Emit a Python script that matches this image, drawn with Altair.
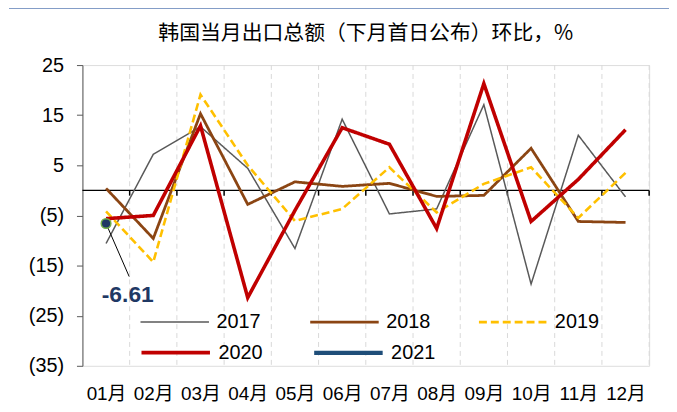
import json
import altair as alt
import pandas as pd

# ---------------- data ----------------
months = list(range(1, 13))
month_labels = ["01月", "02月", "03月", "04月", "05月", "06月",
                "07月", "08月", "09月", "10月", "11月", "12月"]
years = ["2017", "2018", "2019", "2020", "2021"]
v2017 = [-10.6, 7.2, 12.7, 4.4, -11.6, 14.2, -4.7, -3.7, 17.1, -18.7, 11.0, -1.3]
v2018 = [0.4, -9.6, 15.3, -2.8, 1.7, 0.8, 1.4, -1.2, -1.0, 8.4, -6.2, -6.4]
v2019 = [-4.2, -14.3, 19.1, 5.0, -6.1, -3.7, 4.6, -4.4, 1.3, 4.6, -5.5, 3.5]
v2020 = [-5.65, -5.0, 12.9, -21.4, -4.0, 12.5, 9.2, -7.6, 21.3, -6.2, 2.2, 12.1]
v2021 = [-6.61]
y_ticks = [-35, -25, -15, -5, 5, 15, 25]
title_text = "韩国当月出口总额（下月首日公布）环比，%"
ann_text = "-6.61"

colors = ["#595959", "#8B4513", "#FFC000", "#C00000", "#1F4E79"]
widths = [1.5, 2.8, 2.6, 3.6, 4.2]
dashes = [[1, 0], [1, 0], [8, 4], [1, 0], [1, 0]]

rows = []
for yr, vals in zip(years, [v2017, v2018, v2019, v2020, v2021]):
    for m, v in zip(months, vals):
        rows.append({"month": m, "value": v, "year": yr})
df = pd.DataFrame(rows)

bounds_df = pd.DataFrame({"pos": [m + 0.5 for m in months]})
bounds_df["zero"] = 0.0
bounds_df["tickend"] = -1.05
zero_df = pd.DataFrame({"zero": [0.0]})
pt_df = pd.DataFrame({"month": [1], "value": v2021})
ann_line_df = pd.DataFrame({"x1": [1.0], "x2": [1.49], "y1": v2021, "y2": [-17.2]})
ann_text_df = pd.DataFrame({"x": [1.46], "y": [-20.9], "t": [ann_text]})
dummy = pd.DataFrame({"a": [0]})

# ---------------- scales / axes ----------------
FONT = "Liberation Sans, Arial, Noto Sans CJK SC"
xscale = alt.Scale(domain=[0.5, 12.5], nice=False, zero=False)
yscale = alt.Scale(domain=[-35, 25], nice=False, zero=False)
label_expr_x = "%s[datum.value - 1]" % json.dumps(month_labels, ensure_ascii=False)
xaxis = alt.Axis(values=months, labelExpr=label_expr_x, ticks=False, domain=False,
                 grid=False, labelFontSize=19, labelFont=FONT, labelColor="black",
                 labelPadding=19, title=None, labelAngle=0)
yaxis = alt.Axis(values=y_ticks, grid=False, title=None,
                 labelExpr="datum.value < 0 ? '(' + abs(datum.value) + ')' : datum.value + '\u2009'",
                 labelFontSize=20, labelFont=FONT, labelColor="black",
                 tickSize=6, tickColor="#595959", domainColor="#595959",
                 labelPadding=13)


def make_legend(y):
    return alt.Legend(orient="none", legendX=57, legendY=y, columns=3, title=None,
                      direction="horizontal",
                      symbolType="stroke", symbolSize=4761, labelFontSize=20,
                      labelFont=FONT, labelColor="black", labelOffset=6,
                      columnPadding=43, rowPadding=0)


def series_layer(sub_years, legend_y):
    idx = [years.index(y) for y in sub_years]
    lg = make_legend(legend_y)
    sub = df[df["year"].isin(sub_years)]
    return alt.Chart(sub).mark_line(strokeJoin="miter", strokeCap="butt").encode(
        x=alt.X("month:Q", scale=xscale, axis=xaxis),
        y=alt.Y("value:Q", scale=yscale, axis=yaxis),
        color=alt.Color("year:N", scale=alt.Scale(domain=sub_years, range=[colors[i] for i in idx]), legend=lg),
        strokeDash=alt.StrokeDash("year:N", scale=alt.Scale(domain=sub_years, range=[dashes[i] for i in idx]), legend=lg),
        strokeWidth=alt.StrokeWidth("year:N", scale=alt.Scale(type="ordinal", domain=sub_years, range=[widths[i] for i in idx]), legend=lg),
        detail="year:N")


grid = alt.Chart(bounds_df).mark_rule(color="#D9D9D9", strokeWidth=1,
                                      strokeDash=[5, 4]).encode(
    x=alt.X("pos:Q", scale=xscale, axis=xaxis))

zero_line = alt.Chart(zero_df).mark_rule(color="black", strokeWidth=1.5).encode(
    y=alt.Y("zero:Q", scale=yscale, axis=yaxis))

zero_ticks = alt.Chart(bounds_df).mark_rule(color="black", strokeWidth=1.5).encode(
    x=alt.X("pos:Q", scale=xscale, axis=xaxis),
    y=alt.Y("zero:Q", scale=yscale, axis=yaxis),
    y2="tickend:Q")

lines_a = series_layer(years[:3], 223)
lines_b = series_layer(years[3:], 253)

ann_line = alt.Chart(ann_line_df).mark_rule(color="black", strokeWidth=1).encode(
    x=alt.X("x1:Q", scale=xscale, axis=xaxis), x2="x2:Q",
    y=alt.Y("y1:Q", scale=yscale, axis=yaxis), y2="y2:Q")

point = alt.Chart(pt_df).mark_point(filled=True, shape="circle", size=95,
                                    fill="#1F3864", stroke="#70AD47",
                                    strokeWidth=1.5, opacity=1).encode(
    x=alt.X("month:Q", scale=xscale, axis=xaxis),
    y=alt.Y("value:Q", scale=yscale, axis=yaxis))

ann_label = alt.Chart(ann_text_df).mark_text(font="Liberation Sans", fontSize=23,
                                            fontWeight="bold", color="#1F3864",
                                            align="center", baseline="middle").encode(
    x=alt.X("x:Q", scale=xscale, axis=xaxis),
    y=alt.Y("y:Q", scale=yscale, axis=yaxis),
    text="t:N")

top_rule = alt.Chart(dummy).mark_rule(color="#5B7DB5", strokeWidth=2.5).encode(
    x=alt.value(-74), x2=alt.value(595), y=alt.value(-58))

chart = alt.layer(grid, zero_line, zero_ticks, lines_a, lines_b, ann_line, point,
                  ann_label, top_rule).resolve_scale(
    color="independent", strokeDash="independent", strokeWidth="independent"
).properties(
    width=571, height=303,
    title=alt.TitleParams(title_text, font="Noto Sans CJK SC", fontSize=21,
                          fontWeight="normal", color="black", anchor="middle",
                          frame="group", baseline="alphabetic", offset=-55),
    padding={"left": 75, "top": 56, "right": 20, "bottom": 40},
    autosize=alt.AutoSizeParams(type="none"),
).configure_view(stroke=None).configure(background="white")

chart.save("out.html", embed_options={"renderer": "svg", "actions": False})
